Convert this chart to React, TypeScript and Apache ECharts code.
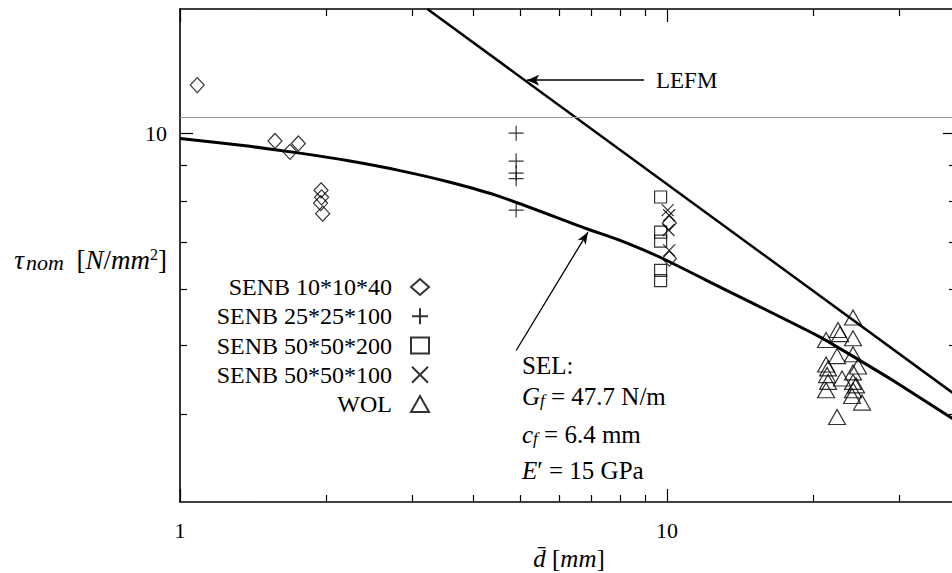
import React, { useEffect, useRef } from 'react';
import * as echarts from 'echarts';

const FONT = 'Liberation Serif';

// axis ticks and labels (log axes)
const xTickMinor = [2, 3, 4, 5, 6, 7, 8, 9, 20, 30];
const xTickMajor = [1, 10];
const xTickLabels = [1, 10];
const yTickMinor = [4, 5, 6, 7, 8, 9];
const yTickMajor = [10];
const yTickLabels = [10];
const xRange = [1, 39.2];
const yRange = [3, 15];

// measured data [d, tau]
const senb10: [number, number][] = [
  [1.085, 11.7], [1.567, 9.75], [1.682, 9.41], [1.75, 9.67], [1.948, 8.3],
  [1.953, 8.11], [1.944, 7.96], [1.963, 7.69], [10.11, 7.46], [10.11, 6.64],
];
const senb25: [number, number][] = [
  [4.9, 10.0], [4.9, 9.13], [4.9, 8.78], [4.9, 8.62], [4.9, 7.78],
];
const senb50x200: [number, number][] = [
  [9.7, 8.12], [9.7, 7.24], [9.7, 7.03], [9.7, 6.39], [9.7, 6.18],
];
const senb50x100: [number, number][] = [
  [10.03, 7.78], [10.1, 7.65], [10.07, 7.29], [10.1, 6.82],
];
const wol: [number, number][] = [
  [24.09, 5.48], [22.44, 5.26], [22.66, 5.19], [21.21, 5.09], [24.09, 5.12],
  [22.34, 4.83], [24.09, 4.86], [21.21, 4.7], [21.41, 4.64], [24.67, 4.67],
  [21.31, 4.54], [24.09, 4.58], [22.87, 4.49], [21.41, 4.44], [24.09, 4.44],
  [24.44, 4.39], [21.21, 4.32], [24.09, 4.32], [23.98, 4.24], [25.14, 4.15],
  [22.34, 3.96],
];

// curves
const selCurve: [number, number][] = [
  [1.0, 9.83], [1.392, 9.58], [1.763, 9.37], [2.234, 9.13], [2.829, 8.85],
  [3.584, 8.52], [4.541, 8.13], [6.842, 7.32], [8.008, 7.05], [9.674, 6.67],
  [12.85, 6.05], [20.62, 5.14], [24.91, 4.76], [29.11, 4.46], [38.11, 3.96],
  [39.2, 3.91],
];
const lefmLine: [number, number][] = [[3.22, 15], [39.2, 4.25]];

// annotation arrows (data coordinates: start -> arrow tip)
const lefmArrow: [number, number][] = [[8.97, 11.89], [5.16, 11.89]];
const selArrow: [number, number][] = [[4.9, 4.92], [6.88, 7.24]];
const refLineY = 10.54;

const legendNames = ['SENB 10*10*40', 'SENB 25*25*100', 'SENB 50*50*200', 'SENB 50*50*100', 'WOL'];

const plusPath = 'path://M0,5L10,5M5,0L5,10';
const crossPath = 'path://M0,0L10,10M10,0L0,10';

const hollow = { color: 'rgba(0,0,0,0)', borderColor: '#000', borderWidth: 1.2 };

export default function App() {
  const ref = useRef<HTMLDivElement>(null);
  useEffect(() => {
    if (!ref.current) return;
    const chart = echarts.init(ref.current, null, { renderer: 'svg' });
    const gridRect = { left: 180, top: 9, width: 776, height: 493, outerBoundsMode: 'none' };
    const axisLine = { show: true, lineStyle: { color: '#000', width: 1.6 } };
    const minorTick = { show: true, inside: true, length: 7, customValues: [] as number[], lineStyle: { color: '#000', width: 1.2 } };
    const labelStyle = { color: '#000', fontFamily: FONT, fontSize: 22 };
    const subRich = { fontStyle: 'italic', fontSize: 17, fontFamily: FONT, verticalAlign: 'bottom' };
    const option: any = {
      animation: false,
      backgroundColor: '#fff',
      textStyle: { fontFamily: FONT },
      grid: [ { ...gridRect }, { ...gridRect } ],
      xAxis: [
        {
          type: 'log', logBase: 10, min: xRange[0], max: xRange[1], gridIndex: 0, position: 'bottom',
          axisLine, splitLine: { show: false },
          axisTick: { ...minorTick, customValues: xTickMinor },
          axisLabel: { ...labelStyle, margin: 17, customValues: xTickLabels, formatter: (v: number) => String(Math.round(v)) },
        },
        {
          type: 'log', logBase: 10, min: xRange[0], max: xRange[1], gridIndex: 0, position: 'top',
          axisLine, splitLine: { show: false },
          axisTick: { ...minorTick, customValues: xTickMinor },
          axisLabel: { show: false },
        },
        {
          type: 'log', logBase: 10, min: xRange[0], max: xRange[1], gridIndex: 1, position: 'bottom',
          axisLine: { show: false }, splitLine: { show: false },
          axisTick: { ...minorTick, length: 13, customValues: xTickMajor },
          axisLabel: { show: false },
        },
        {
          type: 'log', logBase: 10, min: xRange[0], max: xRange[1], gridIndex: 1, position: 'top',
          axisLine: { show: false }, splitLine: { show: false },
          axisTick: { ...minorTick, length: 13, customValues: xTickMajor },
          axisLabel: { show: false },
        },
      ],
      yAxis: [
        {
          type: 'log', logBase: 10, min: yRange[0], max: yRange[1], gridIndex: 0, position: 'left',
          axisLine, splitLine: { show: false },
          axisTick: { ...minorTick, customValues: yTickMinor },
          axisLabel: { ...labelStyle, margin: 13, customValues: yTickLabels, formatter: (v: number) => String(Math.round(v)) },
        },
        {
          type: 'log', logBase: 10, min: yRange[0], max: yRange[1], gridIndex: 0, position: 'right',
          axisLine, splitLine: { show: false },
          axisTick: { ...minorTick, customValues: yTickMinor },
          axisLabel: { show: false },
        },
        {
          type: 'log', logBase: 10, min: yRange[0], max: yRange[1], gridIndex: 1, position: 'left',
          axisLine: { show: false }, splitLine: { show: false },
          axisTick: { ...minorTick, length: 13, customValues: yTickMajor },
          axisLabel: { show: false },
        },
        {
          type: 'log', logBase: 10, min: yRange[0], max: yRange[1], gridIndex: 1, position: 'right',
          axisLine: { show: false }, splitLine: { show: false },
          axisTick: { ...minorTick, length: 13, customValues: yTickMajor },
          axisLabel: { show: false },
        },
      ],
      legend: {
        orient: 'vertical', align: 'right', right: 517, top: 270,
        itemWidth: 18, itemHeight: 16, itemGap: 5.25, selectedMode: false,
        textStyle: { fontFamily: FONT, fontSize: 24, color: '#000', padding: [0, 14, 0, 0] },
        data: legendNames,
      },
      series: [
        {
          type: 'line', name: 'SEL', data: selCurve, showSymbol: false, symbol: 'none', smooth: 0.2,
          lineStyle: { color: '#000', width: 3 }, z: 3, silent: true,
          markLine: {
            silent: true, symbol: ['none', 'none'], label: { show: false },
            lineStyle: { color: '#000', width: 1.3, type: 'solid' },
            data: [[
              { coord: selArrow[0], symbol: 'none' },
              { coord: selArrow[1], symbol: 'arrow', symbolSize: [7, 12] },
            ]],
          },
        },
        {
          type: 'line', name: 'LEFM', data: lefmLine, showSymbol: false, symbol: 'none',
          lineStyle: { color: '#000', width: 2.5 }, z: 3, silent: true,
          markLine: {
            silent: true, symbol: ['none', 'none'], label: { show: false },
            lineStyle: { color: '#000', width: 1.5, type: 'solid' },
            data: [
              [
                { coord: lefmArrow[0], symbol: 'none' },
                { coord: lefmArrow[1], symbol: 'arrow', symbolSize: [8, 12] },
              ],
              { yAxis: refLineY, lineStyle: { color: '#9a9a9a', width: 1.2, type: 'solid' } },
            ],
          },
        },
        { type: 'scatter', name: legendNames[0], data: senb10, symbol: 'diamond', symbolSize: [14, 15], itemStyle: hollow, z: 4 },
        { type: 'scatter', name: legendNames[1], data: senb25, symbol: plusPath, symbolSize: 15, itemStyle: hollow, z: 4 },
        { type: 'scatter', name: legendNames[2], data: senb50x200, symbol: 'rect', symbolSize: 12, itemStyle: hollow, z: 4 },
        { type: 'scatter', name: legendNames[3], data: senb50x100, symbol: crossPath, symbolSize: 12, itemStyle: hollow, z: 4 },
        { type: 'scatter', name: legendNames[4], data: wol, symbol: 'triangle', symbolSize: [17, 15], itemStyle: hollow, z: 4 },
      ],
      graphic: [
        {
          type: 'text', x: 167, y: 260,
          style: {
            text: '{i|τ}{s|nom} [{i|N}/{i|mm}{p|2}]',
            fontFamily: FONT, fontSize: 27, fill: '#000', align: 'right', verticalAlign: 'middle',
            rich: {
              i: { fontStyle: 'italic', fontSize: 27, fontFamily: FONT },
              s: { fontStyle: 'italic', fontSize: 22, fontFamily: FONT, verticalAlign: 'bottom', padding: [0, 6, 0, 2] },
              p: { fontSize: 16, fontFamily: FONT, verticalAlign: 'top' },
            },
          },
        },
        {
          type: 'text', x: 569, y: 558,
          style: {
            text: '{i|d̄} [{i|mm}]',
            fontFamily: FONT, fontSize: 25, fill: '#000', align: 'center', verticalAlign: 'middle',
            rich: { i: { fontStyle: 'italic', fontSize: 25, fontFamily: FONT } },
          },
        },
        {
          type: 'text', x: 656, y: 80,
          style: { text: 'LEFM', fontFamily: FONT, fontSize: 23, fill: '#000', align: 'left', verticalAlign: 'middle' },
        },
        {
          type: 'text', x: 522, y: 365,
          style: { text: 'SEL:', fontFamily: FONT, fontSize: 25, fill: '#000', align: 'left', verticalAlign: 'middle' },
        },
        {
          type: 'text', x: 522, y: 396,
          style: {
            text: '{i|G}{s|f} = 47.7 N/m', fontFamily: FONT, fontSize: 25, fill: '#000', align: 'left', verticalAlign: 'middle',
            rich: { i: { fontStyle: 'italic', fontSize: 25, fontFamily: FONT }, s: subRich },
          },
        },
        {
          type: 'text', x: 522, y: 434,
          style: {
            text: '{i|c}{s|f} = 6.4 mm', fontFamily: FONT, fontSize: 25, fill: '#000', align: 'left', verticalAlign: 'middle',
            rich: { i: { fontStyle: 'italic', fontSize: 25, fontFamily: FONT }, s: subRich },
          },
        },
        {
          type: 'text', x: 522, y: 470,
          style: {
            text: '{i|E}′ = 15 GPa', fontFamily: FONT, fontSize: 25, fill: '#000', align: 'left', verticalAlign: 'middle',
            rich: { i: { fontStyle: 'italic', fontSize: 25, fontFamily: FONT } },
          },
        },
      ],
    };
    chart.setOption(option);
    return () => chart.dispose();
  }, []);
  return <div ref={ref} style={{ position: 'fixed', left: 0, top: 0, width: 952, height: 573, background: '#fff' }} />;
}
